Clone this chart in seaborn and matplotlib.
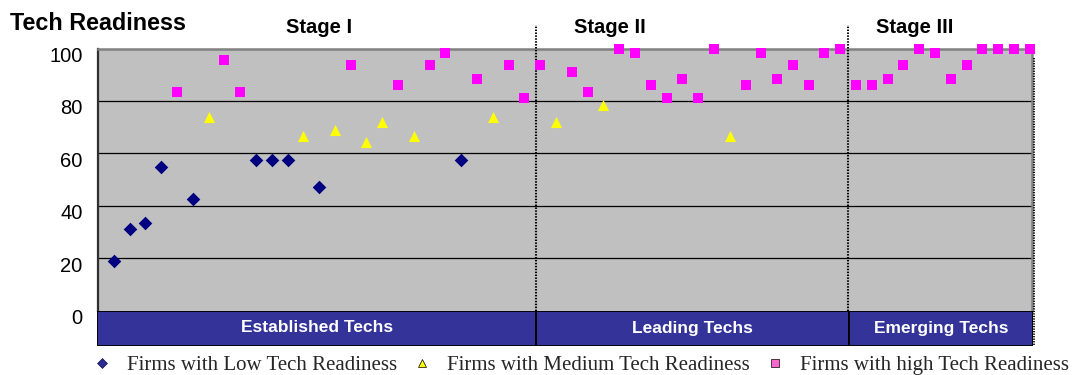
import matplotlib
matplotlib.use("Agg")
import matplotlib.pyplot as plt
import matplotlib.transforms as mtransforms
from matplotlib.lines import Line2D
import pandas as pd
import seaborn as sns

# Firm index (1..59) and tech readiness score for each readiness group
low_firms = [1, 2, 3, 4, 6, 10, 11, 12, 14, 23]
low_scores = [18.8, 31.0, 33.3, 54.8, 42.6, 57.3, 57.3, 57.3, 47.2, 57.3]

medium_firms = [7, 13, 15, 17, 18, 20, 25, 29, 32, 40]
medium_scores = [73.9, 66.7, 69.0, 64.3, 72.0, 66.7, 73.9, 72.0, 78.6, 66.7]

high_firms = [5, 8, 9, 16, 19, 21, 22, 24, 26, 27, 28, 30, 31,
              33, 34, 35, 36, 37, 38, 39,
              41, 42, 43, 44, 45, 46, 47, 48, 49, 50, 51, 52, 53, 54, 55, 56, 57, 58, 59]
high_scores = [83.6, 95.8, 83.6, 93.6, 86.0, 93.6, 98.2, 88.3, 93.6, 81.3, 93.6, 91.2, 83.6,
               100, 98.2, 86.0, 81.3, 88.3, 81.3, 100,
               86.0, 98.2, 88.3, 93.6, 86.0, 98.2, 100, 86.0, 86.0, 88.3, 93.6, 100, 98.2,
               88.3, 93.6, 100, 100, 100, 100]

group_names = ["Firms with Low Tech Readiness",
               "Firms with Medium Tech Readiness",
               "Firms with high Tech Readiness"]

stage_names = ["Stage I", "Stage II", "Stage III"]
stage_label_x = [14.0, 32.4, 51.7]
band_labels = ["Established Techs", "Leading Techs", "Emerging Techs"]
band_edges = [0, 27.74, 47.5, 59.12]

y_ticks = [0, 20, 40, 60, 80, 100]

sns.set_theme(style="white")
plt.rcParams["font.family"] = ["Liberation Sans", "DejaVu Sans"]

W, H = 1075, 375
fig = plt.figure(figsize=(W / 100, H / 100), dpi=100)

def fx(px):
    return px / W

def fy(py):
    return 1 - py / H

ax_left, ax_right = 98, 1031.7
ax_top, ax_bot = 48.6, 310.5
ax = fig.add_axes([fx(ax_left), fy(ax_bot), fx(ax_right - ax_left), (ax_bot - ax_top) / H])
band = fig.add_axes([fx(97), fy(345.5), fx(1033 - 97), (345.5 - ax_bot) / H], sharex=ax)

ax.set_facecolor("#C0C0C0")

groups = [
    (low_firms, low_scores, "D", "#000080", 48),
    (medium_firms, medium_scores, "^", "#FFFF00", 64),
    (high_firms, high_scores, "s", "#FF00FF", 60),
]
for (xs, ys, mk, col, sz), name in zip(groups, group_names):
    df = pd.DataFrame({"firm": xs, "score": ys})
    sns.scatterplot(data=df, x="firm", y="score", marker=mk, color=col, s=sz,
                    linewidth=0, ax=ax, legend=False, clip_on=False, zorder=4)

ax.set_xlim(band_edges[0], band_edges[-1])
ax.set_ylim(0, 100)
ax.set_yticks(y_ticks)
ax.set_xlabel("")
ax.set_ylabel("")
ax.tick_params(axis="x", bottom=False, labelbottom=False)
ax.tick_params(axis="y", length=0, pad=11, labelsize=14.5, labelcolor="black")

# horizontal gridlines inside the plot area
for v in y_ticks[1:-1]:
    ax.axhline(v, color="black", lw=0.9, zorder=1)

for side in ["top", "right"]:
    ax.spines[side].set_color("#808080")
    ax.spines[side].set_linewidth(1.8)
ax.spines["left"].set_color("#303030")
ax.spines["left"].set_linewidth(1.6)
ax.spines["bottom"].set_visible(False)

# nudge tick labels slightly downward
offset = mtransforms.ScaledTranslation(0, -0.06, fig.dpi_scale_trans)
for lbl in ax.get_yticklabels():
    lbl.set_transform(lbl.get_transform() + offset)

# stage dividers (dotted) extending above the plot area
top_ext = (ax_bot - 25) / (ax_bot - ax_top)
for xe in band_edges[1:-1]:
    ax.axvline(xe, ymin=0, ymax=top_ext, color="black", lw=1.5,
               linestyle=(0, (0.7, 0.7)), clip_on=False, zorder=3)

# stage titles
stage_tr = mtransforms.blended_transform_factory(ax.transData, fig.transFigure)
for name, xs in zip(stage_names, stage_label_x):
    ax.text(xs, fy(33), name, transform=stage_tr,
            ha="center", va="baseline", fontsize=14.5, fontweight="bold", color="black")

# category band under the plot
band_tr = mtransforms.blended_transform_factory(band.transData, band.transAxes)
for i, lab in enumerate(band_labels):
    band.axvspan(band_edges[i], band_edges[i + 1], color="#333399", ec="black", lw=1.3)
    band.text((band_edges[i] + band_edges[i + 1]) / 2, 0.5, lab, ha="center", va="center",
              color="white", fontsize=12.5, fontweight="bold", transform=band_tr)
band.set_ylim(0, 1)
band.set_xlim(band_edges[0], band_edges[-1])
band.axis("off")

# shadow-like dotted edge on the right
fig.add_artist(Line2D([fx(1033.5)] * 2, [fy(58), fy(345)], transform=fig.transFigure,
                      color="black", lw=1.3, linestyle=(0, (0.7, 0.7))))

# chart title
fig.text(fx(10), fy(30), "Tech Readiness", ha="left", va="baseline",
         fontsize=16.8, fontweight="bold", color="black")

# legend
handles = [
    Line2D([], [], marker="D", color="#2B2B90", ls="none", ms=4.6, mec="#000040", mew=0.4),
    Line2D([], [], marker="^", color="#FFFF00", ls="none", ms=6.2, mec="black", mew=0.5),
    Line2D([], [], marker="s", color="#FF66CC", ls="none", ms=6.0, mec="black", mew=0.5),
]
fig.legend(handles, group_names, loc="center", bbox_to_anchor=(fx(581), fy(365)),
           ncol=3, frameon=False, handlelength=0.8, handletextpad=0.8, columnspacing=0.8,
           prop={"family": "Liberation Serif", "size": 15}, borderaxespad=0, borderpad=0)

fig.savefig("out.png", dpi=100)
